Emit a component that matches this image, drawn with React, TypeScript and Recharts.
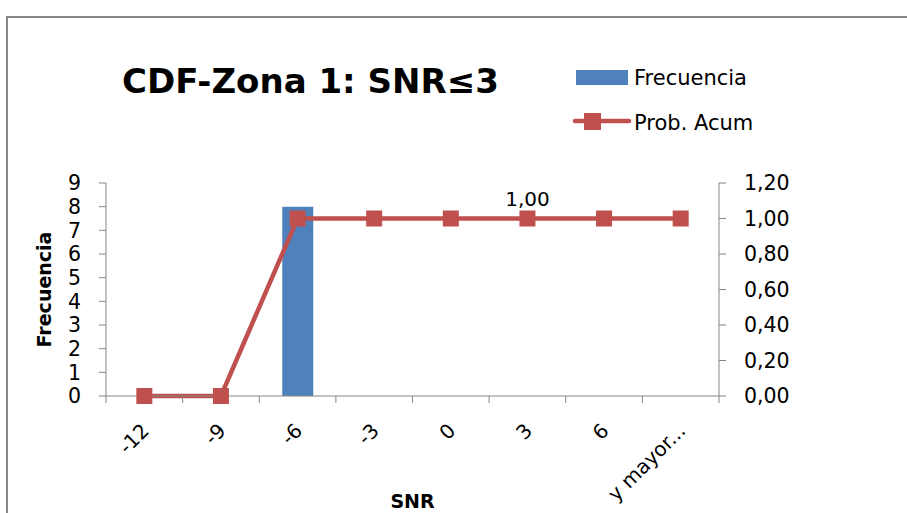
import React from 'react';
import {
  ComposedChart,
  Bar,
  Line,
  XAxis,
  YAxis,
  LabelList,
} from 'recharts';

// values
const categories = ['-12', '-9', '-6', '-3', '0', '3', '6', 'y mayor...'];
const frecuencia = [0, 0, 8, 0, 0, 0, 0, 0];
const probAcum = [0, 0, 1, 1, 1, 1, 1, 1];
const leftTicks = [0, 1, 2, 3, 4, 5, 6, 7, 8, 9];
const rightTicks = [0, 0.2, 0.4, 0.6, 0.8, 1.0, 1.2];

const data = categories.map((name, i) => ({
  name,
  frecuencia: frecuencia[i],
  probAcum: probAcum[i],
}));

const W = 907;
const H = 513;
const LEFT_W = 106;
const RIGHT_W = 60;
const MARGIN_RIGHT = 128;
const PLOT_W = W - LEFT_W - RIGHT_W - MARGIN_RIGHT;

const AXIS = '#868686';
const BLUE = '#4F81BD';
const RED = '#C0504D';
const FONT = '"DejaVu Sans", sans-serif';

const fmt = (v: number) => v.toFixed(2).replace('.', ',');

const XTick = ({ x, y, payload, index }: any) => {
  const band = PLOT_W / categories.length;
  const ax = x + 6;
  const ay = y + 36;
  return (
    <g>
      <line x1={x - band / 2} x2={x - band / 2} y1={y} y2={y + 7} stroke={AXIS} />
      {index === categories.length - 1 && (
        <line x1={x + band / 2} x2={x + band / 2} y1={y} y2={y + 7} stroke={AXIS} />
      )}
      <text
        x={ax}
        y={ay}
        transform={`rotate(-45, ${ax}, ${ay})`}
        textAnchor="end"
        fontSize={20}
        fontFamily={FONT}
        fill="#000"
      >
        {payload.value}
      </text>
    </g>
  );
};

const SquareDot = ({ cx, cy }: any) => (
  <rect x={cx - 8} y={cy - 8} width={16} height={16} fill={RED} />
);

const PointLabel = ({ x, y, value, index }: any) =>
  index === 5 ? (
    <text x={x} y={y - 13} textAnchor="middle" fontSize={20} fontFamily={FONT} fill="#000">
      {fmt(value)}
    </text>
  ) : null;

export default function App() {
  return (
    <div
      style={{
        position: 'absolute',
        left: 0,
        top: 0,
        width: W,
        height: H,
        overflow: 'hidden',
        background: '#fff',
      }}
    >
      <div style={{ position: 'absolute', left: 0, top: 0 }}>
        <ComposedChart
          width={W}
          height={H}
          data={data}
          margin={{ top: 183, right: MARGIN_RIGHT, left: 0, bottom: 0 }}
        >
          <XAxis
            dataKey="name"
            height={117}
            stroke={AXIS}
            tickLine={false}
            tickSize={0}
            tickMargin={0}
            interval={0}
            tick={<XTick />}
            label={{ value: 'SNR', position: 'insideBottom', offset: 5, fontSize: 19, fontWeight: 700, fill: '#000', fontFamily: FONT }}
          />
          <YAxis
            yAxisId="left"
            width={LEFT_W}
            domain={[0, 9]}
            ticks={leftTicks}
            interval={0}
            stroke={AXIS}
            tickSize={7}
            tickMargin={18}
            tick={{ fill: '#000', fontSize: 20.5, fontFamily: FONT }}
            label={{ value: 'Frecuencia', angle: -90, position: 'insideLeft', offset: 44, fontSize: 19, fontWeight: 700, fill: '#000', fontFamily: FONT, style: { textAnchor: 'middle' } }}
          />
          <YAxis
            yAxisId="right"
            orientation="right"
            width={RIGHT_W}
            domain={[0, 1.2]}
            ticks={rightTicks}
            interval={0}
            stroke={AXIS}
            tickSize={7}
            tickMargin={18}
            tickFormatter={fmt}
            tick={{ fill: '#000', fontSize: 20.5, fontFamily: FONT, textAnchor: 'start' }}
          />
          <Bar
            yAxisId="left"
            dataKey="frecuencia"
            name="Frecuencia"
            fill={BLUE}
            barSize={31}
            isAnimationActive={false}
          />
          <Line
            yAxisId="right"
            dataKey="probAcum"
            name="Prob. Acum"
            stroke={RED}
            strokeWidth={4.5}
            dot={<SquareDot />}
            activeDot={false}
            isAnimationActive={false}
          >
            <LabelList dataKey="probAcum" content={<PointLabel />} />
          </Line>
        </ComposedChart>
      </div>

      {/* border, title and legend drawn over the chart */}
      <svg
        width={W}
        height={H}
        style={{ position: 'absolute', left: 0, top: 0, pointerEvents: 'none' }}
        fontFamily={FONT}
      >
        <path d={`M7 ${H + 5} L7 17 L${W + 5} 17`} fill="none" stroke={AXIS} strokeWidth={2} />
        <text x={122} y={93} fontSize={34} fontWeight={700} fill="#000">
          CDF-Zona 1: SNR≤3
        </text>
        <rect x={576} y={70} width={52} height={15} fill={BLUE} />
        <text x={634} y={85} fontSize={21} fill="#000">Frecuencia</text>
        <line x1={575} x2={629} y1={121} y2={121} stroke={RED} strokeWidth={4.5} strokeLinecap="round" />
        <rect x={584} y={113} width={17} height={17} fill={RED} />
        <text x={634} y={130} fontSize={21} fill="#000">Prob. Acum</text>
      </svg>
    </div>
  );
}
